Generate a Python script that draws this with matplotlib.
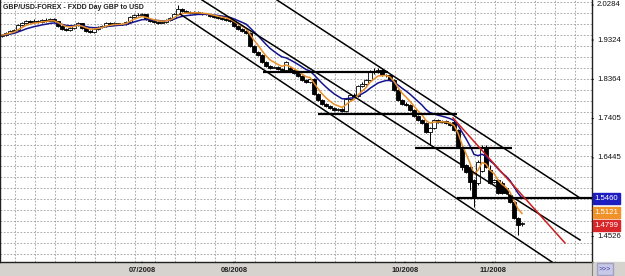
"""GBP/USD daily candles with moving averages and drawn channel lines."""

import matplotlib

matplotlib.use("Agg")
import matplotlib.pyplot as plt
import numpy as np
import pandas as pd
from matplotlib.patches import Rectangle

# daily candles, index 0 = first bar on the left (early May 2008)
opens = [
    1.9420, 1.9447, 1.9495, 1.9544, 1.9569, 1.9691, 1.9740, 1.9788, 1.9764, 1.9788,
    1.9764, 1.9813, 1.9788, 1.9837, 1.9788, 1.9666, 1.9593, 1.9569, 1.9618, 1.9691,
    1.9740, 1.9618, 1.9544, 1.9520, 1.9593, 1.9642, 1.9666, 1.9740, 1.9715, 1.9740,
    1.9715, 1.9715, 1.9764, 1.9886, 1.9935, 1.9935, 1.9959, 1.9837, 1.9788, 1.9764,
    1.9740, 1.9764, 1.9813, 1.9862, 1.9959, 2.0081, 2.0032, 2.0008, 1.9984, 2.0008,
    1.9984, 1.9959, 1.9959, 1.9910, 1.9886, 1.9862, 1.9837, 1.9813, 1.9788, 1.9666,
    1.9593, 1.9544, 1.9495, 1.9178, 1.9032, 1.8958, 1.8788, 1.8690, 1.8641, 1.8666,
    1.8617, 1.8592, 1.8641, 1.8592, 1.8519, 1.8446, 1.8348, 1.8299, 1.8373, 1.8007,
    1.7860, 1.7762, 1.7714, 1.7665, 1.7616, 1.7640, 1.7591, 1.7884, 1.7982, 1.7958,
    1.8202, 1.8250, 1.8348, 1.8543, 1.8543, 1.8592, 1.8470, 1.8470, 1.8348, 1.8104,
    1.7860, 1.7762, 1.7738, 1.7616, 1.7469, 1.7372, 1.7299, 1.7079, 1.7177, 1.7372,
    1.7323, 1.7347, 1.7299, 1.7323, 1.7128, 1.6689, 1.6273, 1.6225, 1.5907, 1.5834,
    1.6127, 1.6689, 1.6151, 1.5858, 1.5907, 1.5834, 1.5712, 1.5541, 1.5370, 1.4980,
    1.4833,
]
highs = [
    1.9470, 1.9510, 1.9560, 1.9590, 1.9710, 1.9760, 1.9810, 1.9820, 1.9830, 1.9810,
    1.9840, 1.9850, 1.9870, 1.9860, 1.9800, 1.9690, 1.9620, 1.9640, 1.9710, 1.9760,
    1.9750, 1.9630, 1.9570, 1.9610, 1.9660, 1.9690, 1.9760, 1.9760, 1.9770, 1.9750,
    1.9740, 1.9790, 1.9910, 1.9960, 1.9980, 1.9990, 1.9970, 1.9850, 1.9800, 1.9790,
    1.9790, 1.9830, 1.9880, 1.9980, 2.0170, 2.0110, 2.0060, 2.0040, 2.0040, 2.0030,
    2.0000, 1.9990, 1.9970, 1.9930, 1.9900, 1.9880, 1.9860, 1.9830, 1.9800, 1.9680,
    1.9610, 1.9560, 1.9510, 1.9200, 1.9060, 1.8990, 1.8800, 1.8720, 1.8700, 1.8680,
    1.8630, 1.8810, 1.8680, 1.8610, 1.8540, 1.8460, 1.8370, 1.8400, 1.8390, 1.8020,
    1.7880, 1.7790, 1.7730, 1.7690, 1.7670, 1.7660, 1.7910, 1.8010, 1.8020, 1.8230,
    1.8290, 1.8370, 1.8580, 1.8640, 1.8640, 1.8610, 1.8500, 1.8490, 1.8370, 1.8120,
    1.7880, 1.7800, 1.7760, 1.7630, 1.7490, 1.7400, 1.7320, 1.7210, 1.7400, 1.7400,
    1.7370, 1.7360, 1.7330, 1.7400, 1.7150, 1.6730, 1.6300, 1.6250, 1.5930, 1.6400,
    1.6760, 1.6760, 1.6280, 1.5920, 1.5930, 1.5880, 1.5720, 1.5560, 1.5380, 1.5000,
    1.4880,
]
lows = [
    1.9400, 1.9430, 1.9480, 1.9510, 1.9550, 1.9670, 1.9720, 1.9740, 1.9750, 1.9740,
    1.9750, 1.9770, 1.9780, 1.9770, 1.9650, 1.9570, 1.9540, 1.9550, 1.9600, 1.9670,
    1.9600, 1.9520, 1.9490, 1.9500, 1.9570, 1.9620, 1.9650, 1.9690, 1.9700, 1.9690,
    1.9680, 1.9700, 1.9750, 1.9870, 1.9900, 1.9910, 1.9820, 1.9770, 1.9740, 1.9720,
    1.9730, 1.9750, 1.9800, 1.9850, 1.9940, 2.0010, 1.9990, 1.9960, 1.9970, 1.9960,
    1.9930, 1.9930, 1.9890, 1.9860, 1.9840, 1.9810, 1.9790, 1.9770, 1.9640, 1.9570,
    1.9520, 1.9470, 1.9150, 1.9000, 1.8930, 1.8760, 1.8660, 1.8620, 1.8630, 1.8600,
    1.8570, 1.8570, 1.8560, 1.8500, 1.8420, 1.8320, 1.8270, 1.8280, 1.7980, 1.7840,
    1.7740, 1.7690, 1.7640, 1.7590, 1.7600, 1.7560, 1.7570, 1.7860, 1.7930, 1.7940,
    1.8180, 1.8230, 1.8330, 1.8500, 1.8520, 1.8440, 1.8420, 1.8320, 1.8080, 1.7840,
    1.7740, 1.7710, 1.7590, 1.7440, 1.7350, 1.7270, 1.7050, 1.6760, 1.7150, 1.7300,
    1.7310, 1.7280, 1.7230, 1.7100, 1.6690, 1.6150, 1.6080, 1.5663, 1.5248, 1.5780,
    1.6100, 1.6200, 1.5800, 1.5830, 1.5560, 1.5560, 1.5560, 1.5350, 1.4950, 1.4563,
    1.4780,
]
closes = [
    1.9447, 1.9495, 1.9544, 1.9569, 1.9691, 1.9740, 1.9788, 1.9764, 1.9788, 1.9764,
    1.9813, 1.9788, 1.9837, 1.9788, 1.9666, 1.9593, 1.9569, 1.9618, 1.9691, 1.9740,
    1.9618, 1.9544, 1.9520, 1.9593, 1.9642, 1.9666, 1.9740, 1.9715, 1.9740, 1.9715,
    1.9715, 1.9764, 1.9886, 1.9935, 1.9935, 1.9959, 1.9837, 1.9788, 1.9764, 1.9740,
    1.9764, 1.9813, 1.9862, 1.9959, 2.0081, 2.0032, 2.0008, 1.9984, 2.0008, 1.9984,
    1.9959, 1.9959, 1.9910, 1.9886, 1.9862, 1.9837, 1.9813, 1.9788, 1.9666, 1.9593,
    1.9544, 1.9495, 1.9178, 1.9032, 1.8958, 1.8788, 1.8690, 1.8641, 1.8666, 1.8617,
    1.8592, 1.8788, 1.8592, 1.8519, 1.8446, 1.8348, 1.8299, 1.8373, 1.8007, 1.7860,
    1.7762, 1.7714, 1.7665, 1.7616, 1.7640, 1.7591, 1.7884, 1.7982, 1.7958, 1.8202,
    1.8250, 1.8348, 1.8543, 1.8543, 1.8592, 1.8470, 1.8470, 1.8348, 1.8104, 1.7860,
    1.7762, 1.7738, 1.7616, 1.7469, 1.7372, 1.7299, 1.7079, 1.7177, 1.7372, 1.7323,
    1.7347, 1.7299, 1.7250, 1.7128, 1.6689, 1.6225, 1.6100, 1.5858, 1.5492, 1.6346,
    1.6713, 1.6225, 1.5834, 1.5907, 1.5590, 1.5590, 1.5590, 1.5370, 1.4980, 1.4809,
    1.4858,
]

# drawn support / resistance lines: (start index, end index, price)
levels = [
    (65.25, 96.5, 1.8543),
    (79.0, 113.75, 1.7518),
    (103.25, 127.5, 1.6688),
    (113.75, 147.5, 1.5460),
]
# parallel channel lines: ((index, price), (index, price))
channels = [
    ((50.0, 2.0301), (144.5, 1.4443)),
    ((44.5, 1.9959), (137.5, 1.3905)),
    ((68.75, 2.0301), (144.5, 1.5468)),
]
red_trend = ((112.75, 1.7421), (140.75, 1.4369))

price_ticks = [2.0284, 1.9324, 1.8364, 1.7405, 1.6445, 1.4526]
date_ticks = [35.0, 58.0, 100.75, 122.75]
date_labels = ["07/2008", "08/2008", "10/2008", "11/2008"]
last_values = [("1.5460", "#1c1cc0"), ("1.5121", "#f0922a"), ("1.4799", "#d8262a")]
last_prices = [1.5460, 1.5121, 1.4799]

W, H = 625, 276
fig = plt.figure(figsize=(W / 100, H / 100), dpi=100, facecolor="white")
plt.rcParams["font.family"] = ["Liberation Sans", "DejaVu Sans"]

# grey strip under the plot
fig.patches.append(
    Rectangle((0, 0), 1, 14 / H, transform=fig.transFigure, color="#d6d3ce", zorder=-5)
)

ax = fig.add_axes([0, 14 / H, 592 / W, 262 / H])
ax.set_xlim(-0.5, 147.5)
ax.set_ylim(1.3905, 2.0301)
ax.set_xticks([])
ax.set_yticks([])
ax.spines["top"].set_visible(False)
for side in ["left", "right", "bottom"]:
    ax.spines[side].set_color("#202020")
    ax.spines[side].set_linewidth(1.0)

# dotted grid
for gx in np.arange(3.25, 147.5, 5):
    ax.axvline(gx, color="#9a9a9a", lw=0.6, ls=(0, (2, 2)), zorder=0)
for gy in np.arange(1.9979 + 0.02673, 1.39, -0.02673):
    ax.axhline(gy, color="#9a9a9a", lw=0.6, ls=(0, (2, 2)), zorder=0)

# candles
idx = np.arange(len(closes))
o = np.array(opens)
c = np.array(closes)
ax.vlines(idx, lows, highs, color="black", lw=0.7, zorder=2)
up = c >= o
bottoms = np.minimum(o, c)
heights = np.maximum(np.abs(c - o), 0.0012)
ax.bar(idx[up], heights[up], bottom=bottoms[up], width=0.8,
       facecolor="white", edgecolor="black", linewidth=0.6, zorder=3)
ax.bar(idx[~up], heights[~up], bottom=bottoms[~up], width=0.8,
       facecolor="black", edgecolor="black", linewidth=0.6, zorder=3)

# moving averages
close_s = pd.Series(closes)
ax.plot(idx, close_s.ewm(span=11, adjust=False).mean(), color="#14148c", lw=1.1, zorder=4)
ax.plot(idx, close_s.ewm(span=5, adjust=False).mean(), color="#e8902c", lw=1.1, zorder=5)

# drawn lines
for x0, x1, lvl in levels:
    ax.plot([x0, x1], [lvl, lvl], color="black", lw=1.6, zorder=6, solid_capstyle="butt")
for (x0, y0), (x1, y1) in channels:
    ax.plot([x0, x1], [y0, y1], color="black", lw=1.1, zorder=6)
(rx0, ry0), (rx1, ry1) = red_trend
ax.plot([rx0, rx1], [ry0, ry1], color="#cc1e1e", lw=1.1, zorder=6)

ax.text(0.3, 2.0301 - 0.002441 * 7.5, "GBP/USD-FOREX - FXDD Day GBP to USD",
        fontsize=5.0, fontweight="bold", color="#202020", va="center", ha="left",
        family=["Liberation Sans Narrow", "Liberation Sans", "DejaVu Sans"], zorder=8)

# right price scale
for p in price_ticks:
    yy = p if p < 2.02 else 2.0301 - 0.002441 * 5
    ax.annotate("", xy=(1.0, yy), xycoords=("axes fraction", "data"),
                xytext=(3, 0), textcoords="offset points", annotation_clip=False,
                arrowprops=dict(arrowstyle="-", lw=0.7, color="black"))
    ax.annotate(f"{p:.4f}", xy=(1.0, yy), xycoords=("axes fraction", "data"),
                xytext=(3.5, 0), textcoords="offset points", fontsize=5.6,
                va="center", ha="left", color="#101010", annotation_clip=False)
for (label, color), p in zip(last_values, last_prices):
    ax.annotate(label, xy=(1.0, p), xycoords=("axes fraction", "data"),
                xytext=(1.8, 0), textcoords="offset points", fontsize=5.6,
                va="center", ha="left", color="white", annotation_clip=False,
                bbox=dict(boxstyle="square,pad=0.25", facecolor=color, edgecolor=color))

# date axis in the grey strip
for xt, lab in zip(date_ticks, date_labels):
    ax.annotate("", xy=(xt, 0), xycoords=("data", "axes fraction"),
                xytext=(0, -2.5), textcoords="offset points", annotation_clip=False,
                arrowprops=dict(arrowstyle="-", lw=0.7, color="black"))
    ax.annotate(lab, xy=(xt, 0), xycoords=("data", "axes fraction"),
                xytext=(0, -6.3), textcoords="offset points", fontsize=5.4,
                fontweight="bold", ha="center", va="center", color="#202020",
                annotation_clip=False)

# scroll button in the corner
fig.text(605 / W, 7 / H, ">>>", fontsize=5, color="#4040a0", ha="center", va="center",
         bbox=dict(boxstyle="square,pad=0.3", facecolor="#c8c8e8", edgecolor="#a0a0c0"))
fig.add_artist(plt.Line2D([592 / W, 592 / W], [0, 14 / H], color="#808080", lw=0.8))

fig.savefig("out.png", dpi=100)
